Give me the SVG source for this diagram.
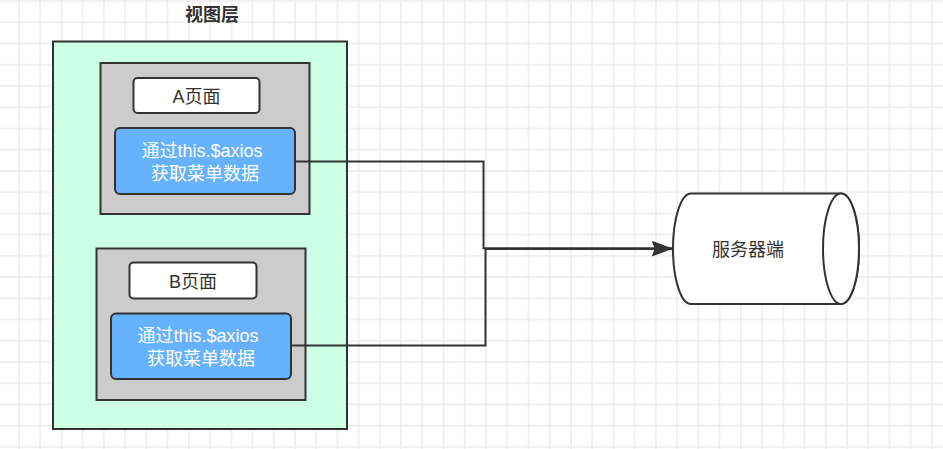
<svg xmlns="http://www.w3.org/2000/svg" width="943" height="449" viewBox="0 0 943 449">
<style>
.lbl{font-family:"Liberation Sans","Noto Sans CJK SC",sans-serif;font-size:18px;fill:#333333;text-anchor:middle}
.wt{font-family:"Liberation Sans","Noto Sans CJK SC",sans-serif;font-size:18px;fill:#ffffff;text-anchor:middle}
.title{font-family:"Liberation Sans","Noto Sans CJK SC",sans-serif;font-size:18px;font-weight:bold;fill:#333333;text-anchor:middle}
.page{fill:#cccccc;stroke:#333333;stroke-width:2}
.name{fill:#ffffff;stroke:#333333;stroke-width:2}
.act{fill:#66b2ff;stroke:#333333;stroke-width:2}
.edge{fill:none;stroke:#333333;stroke-width:2}
</style>
<defs>
<pattern id="grid" x="8.4" y="11.7" width="21.23" height="21.23" patternUnits="userSpaceOnUse">
<path d="M10.6 0 V21.23 M0 10.6 H21.23" stroke="#ebebeb" stroke-width="1.4" fill="none"/>
</pattern>
<marker id="arr" viewBox="0 0 20 15" refX="20" refY="7.5" markerWidth="20" markerHeight="15" markerUnits="userSpaceOnUse" orient="auto">
<path d="M0 0 L20 7.5 L0 15 L3 7.5 Z" fill="#333333"/>
</marker>
</defs>
<rect width="943" height="449" fill="#ffffff"/>
<rect width="943" height="449" fill="url(#grid)"/>

<g id="view-layer">
<rect x="53" y="41.5" width="294" height="387.5" fill="#ccffe6" stroke="#333333" stroke-width="2"/>
<text class="title" x="212" y="21">视图层</text>
</g>

<g id="page-a">
<rect class="page" x="100.5" y="63" width="209" height="151"/>
</g>
<g id="page-a-name">
<rect class="name" x="133.5" y="78" width="126" height="35" rx="4"/>
<text class="lbl" x="196.5" y="103">A页面</text>
</g>
<g id="page-a-fetch">
<rect class="act" x="115" y="128" width="180" height="66" rx="5"/>
<text class="wt" x="202" y="157">通过this.$axios</text>
<text class="wt" x="205" y="180">获取菜单数据</text>
</g>

<g id="page-b">
<rect class="page" x="96.5" y="248.5" width="209" height="151.5"/>
</g>
<g id="page-b-name">
<rect class="name" x="129.5" y="262.5" width="127" height="36" rx="4"/>
<text class="lbl" x="193" y="288">B页面</text>
</g>
<g id="page-b-fetch">
<rect class="act" x="111" y="313.5" width="180" height="65.5" rx="5"/>
<text class="wt" x="198" y="342">通过this.$axios</text>
<text class="wt" x="201" y="365">获取菜单数据</text>
</g>

<g id="server">
<path d="M691 193.5 H841 A18 55.2 0 0 1 841 304 H691 A18 55.2 0 0 1 691 193.5 Z" fill="#ffffff" stroke="#333333" stroke-width="2"/>
<ellipse cx="841" cy="248.7" rx="18" ry="55.2" fill="#ffffff" stroke="#333333" stroke-width="2"/>
<text class="lbl" x="748" y="256">服务器端</text>
</g>

<g id="connectors">
<path class="edge" d="M295 161.5 H483.5 V248.3 H672" marker-end="url(#arr)"/>
<path class="edge" d="M291 345.5 H485.5 V249 H672" marker-end="url(#arr)"/>
</g>
</svg>
